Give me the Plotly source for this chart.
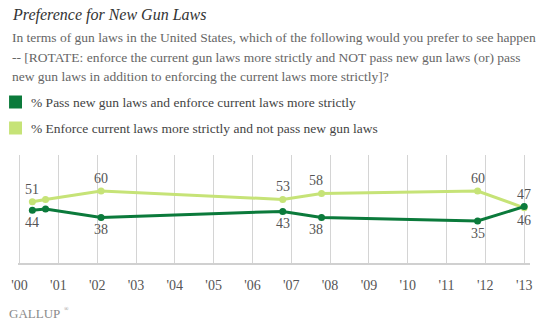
import plotly.graph_objects as go

# Survey dates (decimal years) and percentages
dates = [2000.33, 2000.67, 2002.1, 2006.78, 2007.78, 2011.8, 2013.0]
pass_new = [44, 45, 38, 43, 38, 35, 47]
enforce = [51, 53, 60, 53, 58, 60, 46]
labeled = [True, False, True, True, True, True, True]

years = list(range(2000, 2014))
year_labels = ["'%02d" % (y % 100) for y in years]

title = "Preference for New Gun Laws"
question = [
    "In terms of gun laws in the United States, which of the following would you prefer to see happen",
    "-- [ROTATE: enforce the current gun laws more strictly and NOT pass new gun laws (or) pass",
    "new gun laws in addition to enforcing the current laws more strictly]?",
]
series_names = [
    "% Pass new gun laws and enforce current laws more strictly",
    "% Enforce current laws more strictly and not pass new gun laws",
]

DARK = "#0b7a3b"
LIGHT = "#c6e377"
SERIF = "Liberation Serif"

W, H = 543, 324
L, R, T, B = 17, 11, 155, 61
PW, PH = W - L - R, H - T - B


def px(x):
    return (x - L) / PW


def py(y):
    return (H - B - y) / PH


fig = go.Figure()
fig.add_trace(go.Scatter(x=dates, y=enforce, mode="lines+markers", name=series_names[1],
                         line=dict(color=LIGHT, width=3), marker=dict(size=7, color=LIGHT),
                         hoverinfo="x+y"))
fig.add_trace(go.Scatter(x=dates, y=pass_new, mode="lines+markers", name=series_names[0],
                         line=dict(color=DARK, width=3), marker=dict(size=7, color=DARK),
                         hoverinfo="x+y"))

ann = []
# Title and question wording
ann.append(dict(text="<i>" + title + "</i>", x=px(9), y=py(15), xref="paper", yref="paper",
                xanchor="left", yanchor="middle", showarrow=False,
                font=dict(family=SERIF, size=16, color="#333333")))
for i, line in enumerate(question):
    ann.append(dict(text=line, x=px(9), y=py(38 + 19 * i), xref="paper", yref="paper",
                    xanchor="left", yanchor="middle", showarrow=False,
                    font=dict(family=SERIF, size=13.5, color="#666666")))

# Legend swatches and labels
shapes = []
for i, (name, col) in enumerate(zip(series_names, [DARK, LIGHT])):
    yc = 102 + 26 * i
    shapes.append(dict(type="rect", xref="paper", yref="paper", x0=px(8), x1=px(21),
                       y0=py(yc + 6.5), y1=py(yc - 6.5), fillcolor=col, line=dict(width=0)))
    ann.append(dict(text=name, x=px(28), y=py(yc), xref="paper", yref="paper",
                    xanchor="left", yanchor="middle", showarrow=False,
                    font=dict(family=SERIF, size=13.5, color="#444444")))

# Point value labels
lab_font = dict(family=SERIF, size=14, color="#555555")
n = len(dates)
for i in range(n):
    if not labeled[i]:
        continue
    last = i == n - 1
    xshift = -6 if abs(dates[i] - 2007.78) < 0.01 else 0
    top_val, bot_val = (pass_new[i], enforce[i]) if last else (enforce[i], pass_new[i])
    top_y = max(pass_new[i], enforce[i])
    bot_y = min(pass_new[i], enforce[i])
    ann.append(dict(text=str(top_val), x=dates[i], y=top_y, xref="x", yref="y",
                    showarrow=False, yanchor="bottom", yshift=3, xshift=xshift, font=lab_font))
    ann.append(dict(text=str(bot_val), x=dates[i], y=bot_y, xref="x", yref="y",
                    showarrow=False, yanchor="top", yshift=-3, xshift=xshift, font=lab_font))

# Gallup wordmark
ann.append(dict(text="GALLUP", x=px(6), y=py(313), xref="paper", yref="paper",
                xanchor="left", yanchor="middle", showarrow=False,
                font=dict(family=SERIF, size=13, color="#8a8a8a")))
ann.append(dict(text="®", x=px(61), y=py(309), xref="paper", yref="paper",
                xanchor="left", yanchor="middle", showarrow=False,
                font=dict(family=SERIF, size=6, color="#8a8a8a")))

fig.update_layout(
    width=W, height=H, margin=dict(l=L, r=R, t=T, b=B),
    paper_bgcolor="white", plot_bgcolor="white", showlegend=False,
    annotations=ann, shapes=shapes,
    xaxis=dict(range=[1999.96, 2013.15], tickvals=years, ticktext=year_labels,
               showgrid=True, gridcolor="#d4d4d4", gridwidth=1,
               showline=True, linecolor="#d0d0d0", linewidth=2,
               ticks="outside", ticklen=8, tickcolor="rgba(0,0,0,0)",
               tickfont=dict(family=SERIF, size=14, color="#555555"), zeroline=False),
    yaxis=dict(range=[0, 90], visible=False, showgrid=False, zeroline=False),
)

fig.write_html("out.html")
